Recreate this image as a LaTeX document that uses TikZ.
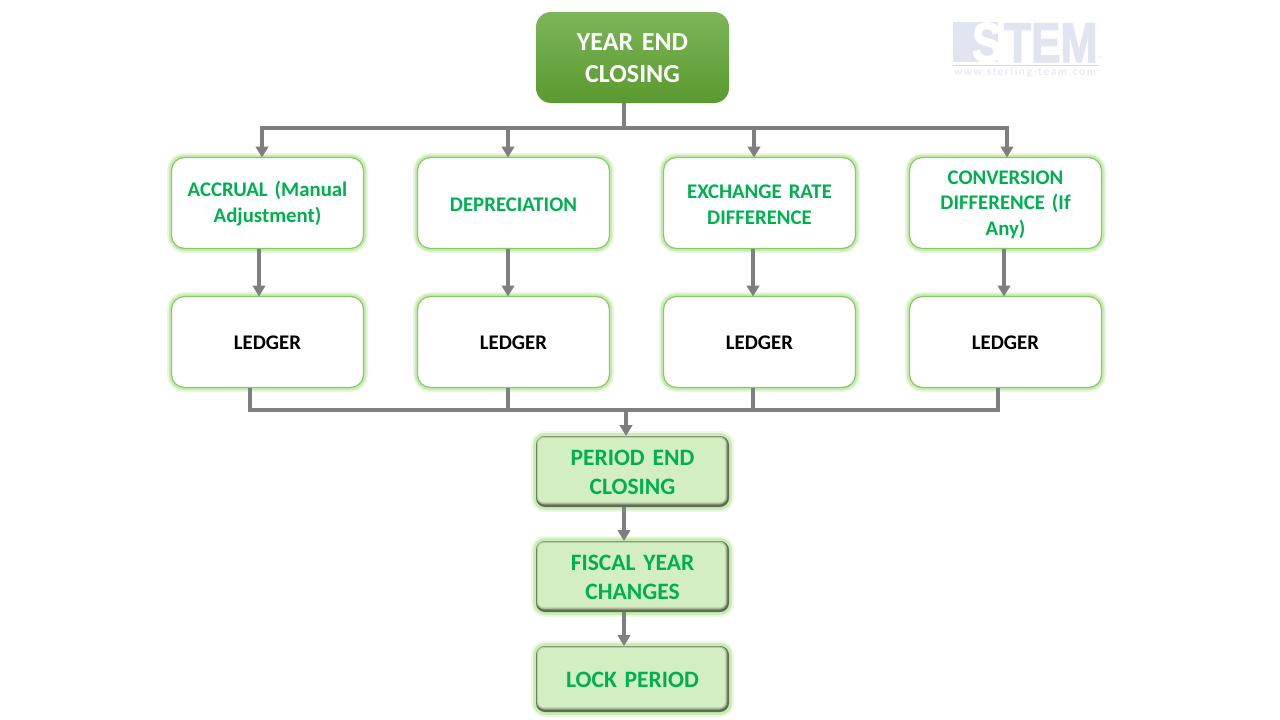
\documentclass[tikz,border=0pt]{standalone}
\usepackage{fontspec}
\setmainfont[WordSpace=0.85]{Carlito}
\newfontfamily\logofont[FakeBold=2.5]{Liberation Sans Bold}
\usetikzlibrary{arrows.meta,calc}
\definecolor{grn}{HTML}{00B050}
\definecolor{conn}{HTML}{7F7F7F}
\definecolor{edgeg}{HTML}{8CC66A}
\definecolor{glowg}{HTML}{A9E285}
\definecolor{logob}{HTML}{E1E5F2}
\definecolor{topa}{HTML}{7CB55A}
\definecolor{topb}{HTML}{5A9A2E}
\definecolor{lightg}{HTML}{D3EEC0}
\definecolor{darkb}{HTML}{5F6B55}
\tikzset{
  x=1pt,y=-1pt,
  every node/.style={inner sep=0pt,outer sep=0pt,align=center,font=\bfseries},
  glowbox/.style={rounded corners=13pt,
    preaction={draw=glowg,draw opacity=.25,line width=9pt},
    preaction={draw=glowg,draw opacity=.50,line width=5.5pt},
    draw=edgeg,line width=1.2pt,fill=white},
  plainbox/.style={glowbox,minimum width=192pt,minimum height=91pt,text width=172pt},
  greenlab/.style={plainbox,text=grn,font=\bfseries\fontsize{20.8}{25.6}\selectfont,
    execute at begin node={\rule{0pt}{17pt}}},
  blacklab/.style={plainbox,text=black,font=\bfseries\fontsize{20.8}{25.6}\selectfont,
    execute at begin node={\rule{0pt}{15.5pt}}},
  topbox/.style={rounded corners=15pt,minimum width=193pt,minimum height=91pt,text=white,
    top color=topa,bottom color=topb,draw=none,text width=172pt,
    font=\bfseries\fontsize{26}{32}\selectfont,
    execute at begin node={\rule{0pt}{19pt}}},
  stackbox/.style={rounded corners=9pt,minimum width=193pt,text=grn,text width=175pt,
    font=\bfseries\fontsize{23.5}{29}\selectfont,
    execute at begin node={\rule{0pt}{17pt}},
    preaction={draw=glowg,draw opacity=.20,line width=10pt},
    preaction={draw=glowg,draw opacity=.50,line width=6pt},
    fill=darkb,
    path picture={
      \def\pb{path picture bounding box}
      \fill[darkb!55!lightg,rounded corners=8pt] ([xshift=0.5pt,yshift=2.4pt]\pb.south west) rectangle ([xshift=-1.6pt,yshift=-0.3pt]\pb.north east);
      \fill[darkb!25!lightg,rounded corners=7pt] ([xshift=1pt,yshift=3.4pt]\pb.south west) rectangle ([xshift=-2.6pt,yshift=-0.8pt]\pb.north east);
      \fill[lightg,rounded corners=6pt] ([xshift=2pt,yshift=4.6pt]\pb.south west) rectangle ([xshift=-3.6pt,yshift=-2pt]\pb.north east);
    }},
  conline/.style={draw=conn,line width=4pt},
  conarrow/.style={conline,-{Triangle[length=11pt,width=12.5pt]}},
}
\begin{document}
\begin{tikzpicture}
\useasboundingbox (0,0) rectangle (1280,720);
\fill[white] (0,0) rectangle (1280,720);

% logo
\fill[logob] (953,22) rectangle (998,62);
\node[anchor=base west,text=white,xscale=.8,font=\logofont\fontsize{56}{56}\selectfont] (logoS) at (972,62) {S};
\node[anchor=base west,text=logob,xscale=.79,font=\logofont\fontsize{56}{56}\selectfont] (logoT) at (1004,62) {TEM};
\node[anchor=base west,text=logob,font=\fontsize{9}{9}\selectfont] (logoR) at (1098,62) {®};
\fill[red!22] (953,64.5) rectangle (1098,65.5);
\node[anchor=base west,text=logob,font=\fontsize{11.5}{11.5}\selectfont\addfontfeatures{LetterSpace=13}] (logoW) at (954,75.5) {www.sterling-team.com};

% boxes
\node[topbox] (top) at (632.5,57.5) {YEAR END\\CLOSING};

\node[greenlab] (a1) at (267.5,203) {ACCRUAL (Manual\\Adjustment)};
\node[greenlab] (a2) at (513.5,203) {DEPRECIATION};
\node[greenlab] (a3) at (759.5,203) {EXCHANGE RATE\\DIFFERENCE};
\node[greenlab] (a4) at (1005.5,203) {CONVERSION\\DIFFERENCE (If\\Any)};

\node[blacklab] (b1) at (267.5,342) {LEDGER};
\node[blacklab] (b2) at (513.5,342) {LEDGER};
\node[blacklab] (b3) at (759.5,342) {LEDGER};
\node[blacklab] (b4) at (1005.5,342) {LEDGER};

\node[stackbox,minimum height=71pt] (c1) at (632.5,471.5) {PERIOD END\\CLOSING};
\node[stackbox,minimum height=71pt] (c2) at (632.5,576.5) {FISCAL YEAR\\CHANGES};
\node[stackbox,minimum height=66pt] (c3) at (632.5,679) {LOCK PERIOD};

% connector junctions
\coordinate (barT) at (624,128);
\coordinate (barTL) at (260,128);
\coordinate (barTR) at (1009,128);
\coordinate (barB) at (626,410);
\coordinate (barBL) at (248,410);
\coordinate (barBR) at (1000,410);

% connectors
\draw[conline] ([xshift=-8.5pt]top.south) -- (barT);
\draw[conline] (barTL) -- (barTR);
\draw[conarrow] (262,128) -- ([xshift=-5.5pt]a1.north);
\draw[conarrow] (508,128) -- ([xshift=-5.5pt]a2.north);
\draw[conarrow] (754,128) -- ([xshift=-5.5pt]a3.north);
\draw[conarrow] (1007,128) -- ([xshift=1.5pt]a4.north);

\draw[conarrow] ([xshift=-8.5pt]a1.south) -- ([xshift=-8.5pt]b1.north);
\draw[conarrow] ([xshift=-5.5pt]a2.south) -- ([xshift=-5.5pt]b2.north);
\draw[conarrow] ([xshift=-6.5pt]a3.south) -- ([xshift=-6.5pt]b3.north);
\draw[conarrow] ([xshift=-1.5pt]a4.south) -- ([xshift=-1.5pt]b4.north);

\draw[conline] ([xshift=-17.5pt]b1.south) -- (250,410);
\draw[conline] ([xshift=-5.5pt]b2.south) -- (508,410);
\draw[conline] ([xshift=-6.5pt]b3.south) -- (753,410);
\draw[conline] ([xshift=-7.5pt]b4.south) -- (998,410);
\draw[conline] (barBL) -- (barBR);

\draw[conarrow] (barB) -- ([xshift=-6.5pt]c1.north);
\draw[conarrow] ([xshift=-8.5pt]c1.south) -- ([xshift=-8.5pt]c2.north);
\draw[conarrow] ([xshift=-8.5pt]c2.south) -- ([xshift=-8.5pt]c3.north);
\end{tikzpicture}
\end{document}
